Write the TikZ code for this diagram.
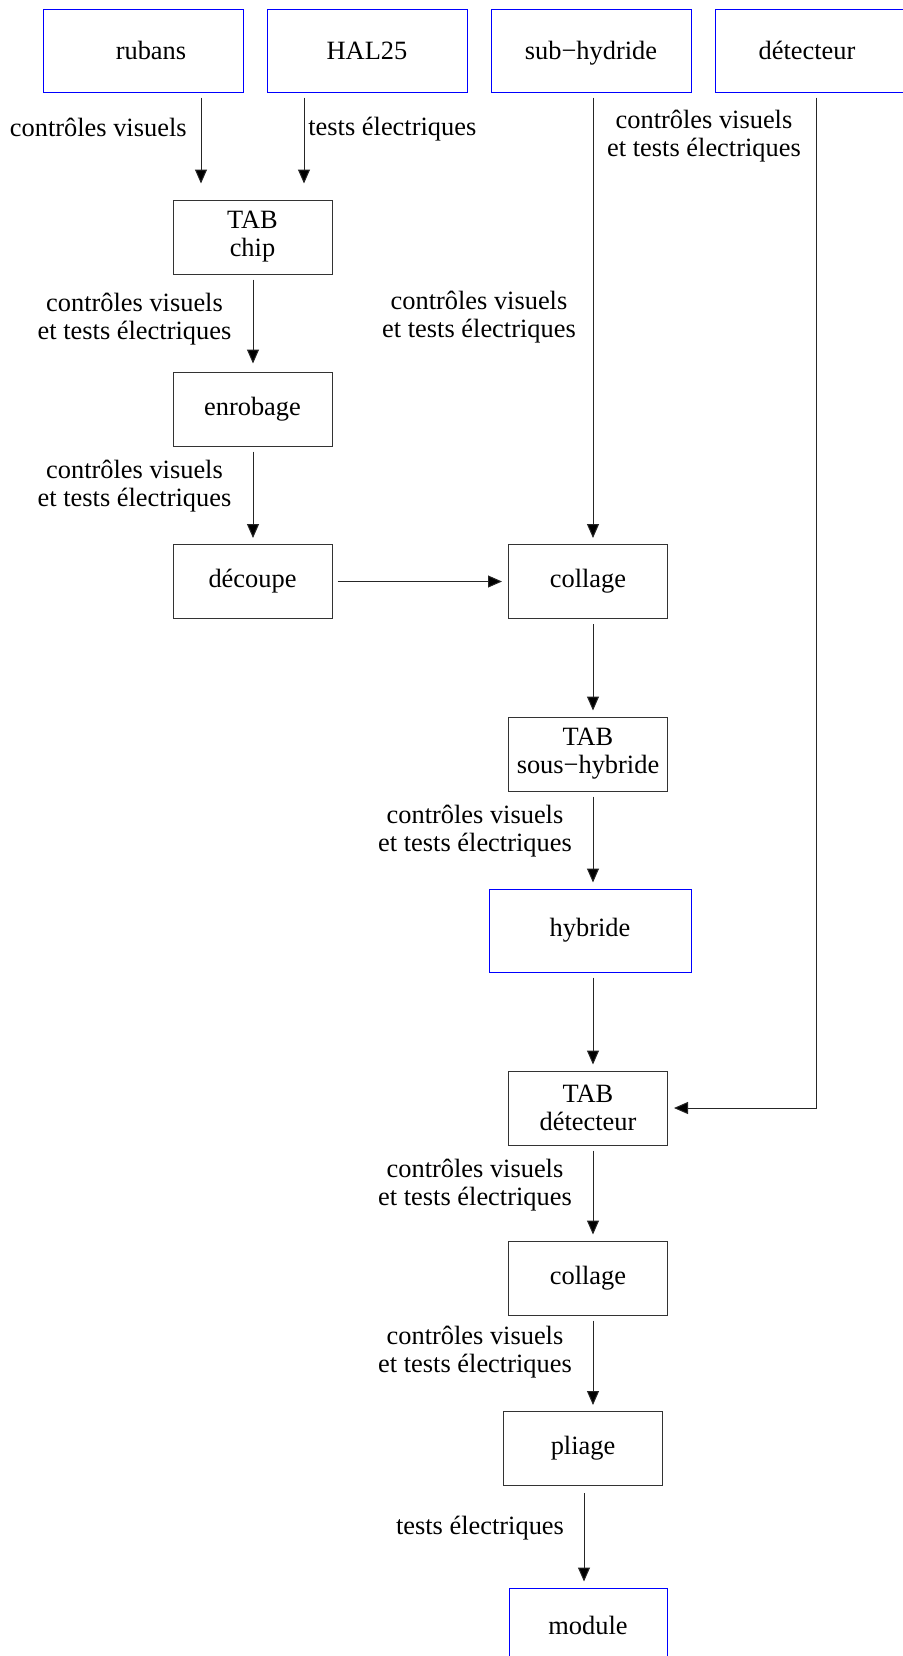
\documentclass[tikz,border=0pt]{standalone}
\usepackage{fontspec}
\setmainfont{Liberation Serif}
\usetikzlibrary{arrows.meta}
\newcommand\lblfont{\fontsize{13.2}{14}\selectfont}
\begin{document}
\begin{tikzpicture}[x=0.5pt,y=-0.5pt,
  box/.style={draw=black!80, line width=0.5pt, minimum width=79.5pt, minimum height=37pt, inner sep=0pt, align=center, font=\lblfont},
  src/.style={draw=blue, line width=0.5pt, minimum width=100pt, minimum height=41.5pt, inner sep=0pt, align=center, font=\lblfont},
  arr/.style={draw=black!85, line width=0.5pt, -{Triangle[width=6pt,length=7pt,fill=black]}, shorten <=2.5pt, shorten >=3pt},
  lbl/.style={align=center, inner sep=0pt, font=\lblfont}]
\useasboundingbox (0,0) rectangle (903,1656);
% column coordinates
\coordinate (cA) at (201,0);
\coordinate (cB) at (304,0);
\coordinate (cC) at (253,0);
\coordinate (cD) at (593,0);
\coordinate (cE) at (816,0);
\coordinate (cF) at (584,0);
% nodes
\node[src] (rubans) at (143,50.5) {\hspace*{8pt}rubans};
\node[src] (hal) at (367,50.5) {HAL25};
\node[src, text depth=0pt] (subh) at (591,50.5) {sub−hydride};
\node[src] (det) at (815,50.5) {d\'etecteur\hspace*{8pt}};
\node[box] (tabchip) at (252.5,237) {TAB\\chip};
\node[box] (enrob) at (252.5,409) {enrobage};
\node[box] (decoupe) at (252.5,581.5) {d\'ecoupe};
\node[box] (coll1) at (588,581.5) {collage};
\node[box] (tabsh) at (588,754) {TAB\\sous−hybride};
\node[src, minimum width=101pt] (hyb) at (590,930.5) {hybride};
\node[box] (tabdet) at (588,1108) {TAB\\d\'etecteur};
\node[box] (coll2) at (588,1278) {collage};
\node[box] (pliage) at (583,1448.5) {pliage};
\node[src, minimum width=79pt, minimum height=37pt] (module) at (588,1625) {module};
% connectors
\draw[arr, shorten >=8pt] (rubans.south -| cA) -- (tabchip.north -| cA);
\draw[arr, shorten >=8pt] (hal.south -| cB) -- (tabchip.north -| cB);
\draw[arr, shorten >=4pt] (tabchip.south -| cC) -- (enrob.north -| cC);
\draw[arr] (enrob.south -| cC) -- (decoupe.north -| cC);
\draw[arr] (decoupe.east) -- (coll1.west);
\draw[arr] (subh.south -| cD) -- (coll1.north -| cD);
\draw[arr] (coll1.south -| cD) -- (tabsh.north -| cD);
\draw[arr] (tabsh.south -| cD) -- (hyb.north -| cD);
\draw[arr] (hyb.south -| cD) -- (tabdet.north -| cD);
\draw[arr] (det.south -| cE) |- (tabdet.east);
\draw[arr] (tabdet.south -| cD) -- (coll2.north -| cD);
\draw[arr] (coll2.south -| cD) -- (pliage.north -| cD);
\draw[arr, shorten <=3.5pt] (pliage.south -| cF) -- (module.north -| cF);
% labels
\node[lbl, anchor=east] (l1) at (187,127) {contr\^oles visuels};
\node[lbl, anchor=west] (l2) at (308,129) {tests \'electriques};
\node[lbl] (l3) at (704,136) {contr\^oles visuels\\et tests \'electriques};
\node[lbl] (l4) at (479,317) {contr\^oles visuels\\et tests \'electriques};
\node[lbl] (l5) at (134.5,319) {contr\^oles visuels\\et tests \'electriques};
\node[lbl] (l6) at (134.5,486) {contr\^oles visuels\\et tests \'electriques};
\node[lbl] (l7) at (475,831) {contr\^oles visuels\\et tests \'electriques};
\node[lbl] (l8) at (475,1185) {contr\^oles visuels\\et tests \'electriques};
\node[lbl] (l9) at (475,1352) {contr\^oles visuels\\et tests \'electriques};
\node[lbl] (l10) at (480,1528) {tests \'electriques};
\end{tikzpicture}
\end{document}
